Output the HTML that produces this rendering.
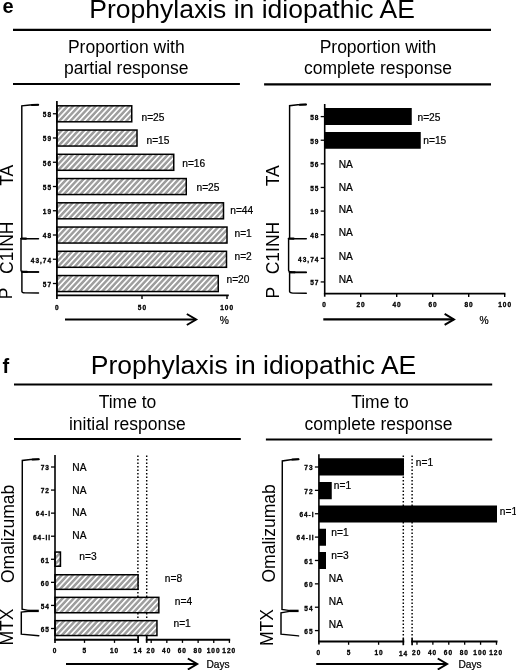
<!DOCTYPE html>
<html lang="en"><head><meta charset="utf-8"><title>Prophylaxis in idiopathic AE</title>
<style>html,body{margin:0;padding:0;background:#fff;}body{width:516px;height:670px;overflow:hidden;}svg{display:block;}text{font-family:"Liberation Sans", Arial, sans-serif;fill:#000;}</style>
</head><body>
<svg width="516" height="670" viewBox="0 0 516 670">
<defs><pattern id="h" width="4.1" height="4.1" patternUnits="userSpaceOnUse" patternTransform="rotate(-47)"><rect width="4.1" height="4.1" fill="#9e9e9e"/><rect y="0" width="4.1" height="1.6" fill="#fff"/></pattern></defs>
<rect width="516" height="670" fill="#fff"/>
<text x="2.4" y="12.5" font-size="20" text-anchor="start" font-weight="bold">e</text>
<text x="252.1" y="18.3" font-size="26.5" text-anchor="middle">Prophylaxis in idiopathic AE</text>
<line x1="13" y1="29.9" x2="491" y2="29.9" stroke="#000" stroke-width="2.1"/>
<text x="126.3" y="53.3" font-size="17.5" text-anchor="middle">Proportion with</text>
<text x="126.3" y="74" font-size="17.5" text-anchor="middle">partial response</text>
<line x1="13" y1="83.9" x2="239.9" y2="83.9" stroke="#000" stroke-width="2"/>
<text x="378" y="53.3" font-size="17.5" text-anchor="middle">Proportion with</text>
<text x="378" y="74" font-size="17.5" text-anchor="middle">complete response</text>
<line x1="264.1" y1="84.4" x2="491" y2="84.4" stroke="#000" stroke-width="2.2"/>
<rect x="56.9" y="105.8" width="74.85" height="16.0" fill="url(#h)" stroke="#000" stroke-width="1.5"/>
<line x1="52.9" y1="113.75" x2="56.9" y2="113.75" stroke="#000" stroke-width="1.3"/>
<text x="52.1" y="117.05" font-size="6.5" text-anchor="end" font-weight="bold" letter-spacing="1" stroke="#000" stroke-width="0.3">58</text>
<text x="141.5" y="120.5" font-size="10.2" text-anchor="start" stroke="#000" stroke-width="0.22">n=25</text>
<rect x="56.9" y="130.05" width="80.1" height="16.0" fill="url(#h)" stroke="#000" stroke-width="1.5"/>
<line x1="52.9" y1="138.0" x2="56.9" y2="138.0" stroke="#000" stroke-width="1.3"/>
<text x="52.1" y="141.3" font-size="6.5" text-anchor="end" font-weight="bold" letter-spacing="1" stroke="#000" stroke-width="0.3">59</text>
<text x="146.5" y="143.75" font-size="10.2" text-anchor="start" stroke="#000" stroke-width="0.22">n=15</text>
<rect x="56.9" y="154.3" width="116.85" height="16.0" fill="url(#h)" stroke="#000" stroke-width="1.5"/>
<line x1="52.9" y1="162.25" x2="56.9" y2="162.25" stroke="#000" stroke-width="1.3"/>
<text x="52.1" y="165.55" font-size="6.5" text-anchor="end" font-weight="bold" letter-spacing="1" stroke="#000" stroke-width="0.3">56</text>
<text x="182.25" y="167" font-size="10.2" text-anchor="start" stroke="#000" stroke-width="0.22">n=16</text>
<rect x="56.9" y="178.55" width="129.35" height="16.0" fill="url(#h)" stroke="#000" stroke-width="1.5"/>
<line x1="52.9" y1="186.5" x2="56.9" y2="186.5" stroke="#000" stroke-width="1.3"/>
<text x="52.1" y="189.8" font-size="6.5" text-anchor="end" font-weight="bold" letter-spacing="1" stroke="#000" stroke-width="0.3">55</text>
<text x="196.5" y="190.75" font-size="10.2" text-anchor="start" stroke="#000" stroke-width="0.22">n=25</text>
<rect x="56.9" y="202.8" width="166.6" height="16.0" fill="url(#h)" stroke="#000" stroke-width="1.5"/>
<line x1="52.9" y1="210.75" x2="56.9" y2="210.75" stroke="#000" stroke-width="1.3"/>
<text x="52.1" y="214.05" font-size="6.5" text-anchor="end" font-weight="bold" letter-spacing="1" stroke="#000" stroke-width="0.3">19</text>
<text x="230.25" y="214.25" font-size="10.2" text-anchor="start" stroke="#000" stroke-width="0.22">n=44</text>
<rect x="56.9" y="227.05" width="170.1" height="16.0" fill="url(#h)" stroke="#000" stroke-width="1.5"/>
<line x1="52.9" y1="235.0" x2="56.9" y2="235.0" stroke="#000" stroke-width="1.3"/>
<text x="52.1" y="238.3" font-size="6.5" text-anchor="end" font-weight="bold" letter-spacing="1" stroke="#000" stroke-width="0.3">48</text>
<text x="234.5" y="236.5" font-size="10.2" text-anchor="start" stroke="#000" stroke-width="0.22">n=1</text>
<rect x="56.9" y="251.3" width="169.6" height="16.0" fill="url(#h)" stroke="#000" stroke-width="1.5"/>
<line x1="52.9" y1="259.25" x2="56.9" y2="259.25" stroke="#000" stroke-width="1.3"/>
<text x="52.1" y="262.55" font-size="6.5" text-anchor="end" font-weight="bold" letter-spacing="1" stroke="#000" stroke-width="0.3">43,74</text>
<text x="234.5" y="259.5" font-size="10.2" text-anchor="start" stroke="#000" stroke-width="0.22">n=2</text>
<rect x="56.9" y="275.55" width="161.35" height="16.0" fill="url(#h)" stroke="#000" stroke-width="1.5"/>
<line x1="52.9" y1="283.5" x2="56.9" y2="283.5" stroke="#000" stroke-width="1.3"/>
<text x="52.1" y="286.8" font-size="6.5" text-anchor="end" font-weight="bold" letter-spacing="1" stroke="#000" stroke-width="0.3">57</text>
<text x="226.5" y="282.5" font-size="10.2" text-anchor="start" stroke="#000" stroke-width="0.22">n=20</text>
<line x1="56.9" y1="101" x2="56.9" y2="299" stroke="#000" stroke-width="1.7"/>
<line x1="56.05" y1="295.3" x2="228.8" y2="295.3" stroke="#000" stroke-width="1.7"/>
<line x1="142" y1="295.3" x2="142" y2="299" stroke="#000" stroke-width="1.4"/>
<line x1="227.0" y1="295.3" x2="227.0" y2="299" stroke="#000" stroke-width="1.4"/>
<text x="56.7" y="309.5" font-size="6.5" text-anchor="middle" font-weight="bold" stroke="#000" stroke-width="0.3">0</text>
<text x="142.4" y="309.5" font-size="6.5" text-anchor="middle" font-weight="bold" letter-spacing="1" stroke="#000" stroke-width="0.3">50</text>
<text x="227.1" y="309.5" font-size="6.5" text-anchor="middle" font-weight="bold" letter-spacing="1" stroke="#000" stroke-width="0.3">100</text>
<line x1="65" y1="319.5" x2="195.835522065861" y2="319.5" stroke="#000" stroke-width="2.1"/>
<path d="M186.84 314.0 L196.14 319.5 L186.84 325.0" fill="none" stroke="#000" stroke-width="2.0" stroke-linejoin="miter" stroke-miterlimit="10"/>
<text x="219.8" y="323.6" font-size="10.3" text-anchor="start" stroke="#000" stroke-width="0.22">%</text>
<path d="M38.2 104.7 L30.0 105.0 L21.8 105.9 L21.8 238.0" fill="none" stroke="#000" stroke-width="1.45" stroke-linejoin="miter" stroke-linecap="round"/>
<path d="M38.2 104.7 L32.0 104.94000000000001" fill="none" stroke="#000" stroke-width="2.05" stroke-linecap="round"/>
<path d="M38.5 238.7 L20.7 238.7 M21.0 238.7 L21.0 270.59999999999997 Q21.0 271.68 24.2 271.88 L38.5 272.0" fill="none" stroke="#000" stroke-width="1.45" stroke-linejoin="miter" stroke-linecap="round"/>
<path d="M21.5 238.5 L26.0 238.6" fill="none" stroke="#000" stroke-width="2.15" stroke-linecap="round"/>
<path d="M38.5 272.0 L21.599999999999998 272.0 M21.9 272.0 L21.9 291.4 Q21.9 292.6 25.099999999999998 292.85 L38.5 293.0" fill="none" stroke="#000" stroke-width="1.45" stroke-linejoin="miter" stroke-linecap="round"/>
<path d="M22.4 271.8 L26.9 271.9" fill="none" stroke="#000" stroke-width="2.15" stroke-linecap="round"/>
<text x="12.9" y="185.8" font-size="17.5" text-anchor="start" transform="rotate(-90 12.9 185.8)">TA</text>
<text x="12.9" y="274" font-size="17.5" text-anchor="start" transform="rotate(-90 12.9 274)">C1INH</text>
<text x="12.3" y="299.3" font-size="17.5" text-anchor="start" transform="rotate(-90 12.3 299.3)">P</text>
<line x1="320.7" y1="116.6" x2="324.7" y2="116.6" stroke="#000" stroke-width="1.3"/>
<text x="319.4" y="119.89999999999999" font-size="6.5" text-anchor="end" font-weight="bold" letter-spacing="1" stroke="#000" stroke-width="0.3">58</text>
<line x1="320.7" y1="140.22" x2="324.7" y2="140.22" stroke="#000" stroke-width="1.3"/>
<text x="319.4" y="143.52" font-size="6.5" text-anchor="end" font-weight="bold" letter-spacing="1" stroke="#000" stroke-width="0.3">59</text>
<line x1="320.7" y1="163.84" x2="324.7" y2="163.84" stroke="#000" stroke-width="1.3"/>
<text x="319.4" y="167.14000000000001" font-size="6.5" text-anchor="end" font-weight="bold" letter-spacing="1" stroke="#000" stroke-width="0.3">56</text>
<line x1="320.7" y1="187.45999999999998" x2="324.7" y2="187.45999999999998" stroke="#000" stroke-width="1.3"/>
<text x="319.4" y="190.76" font-size="6.5" text-anchor="end" font-weight="bold" letter-spacing="1" stroke="#000" stroke-width="0.3">55</text>
<line x1="320.7" y1="211.07999999999998" x2="324.7" y2="211.07999999999998" stroke="#000" stroke-width="1.3"/>
<text x="319.4" y="214.38" font-size="6.5" text-anchor="end" font-weight="bold" letter-spacing="1" stroke="#000" stroke-width="0.3">19</text>
<line x1="320.7" y1="234.7" x2="324.7" y2="234.7" stroke="#000" stroke-width="1.3"/>
<text x="319.4" y="238.0" font-size="6.5" text-anchor="end" font-weight="bold" letter-spacing="1" stroke="#000" stroke-width="0.3">48</text>
<line x1="320.7" y1="258.32" x2="324.7" y2="258.32" stroke="#000" stroke-width="1.3"/>
<text x="319.4" y="261.62" font-size="6.5" text-anchor="end" font-weight="bold" letter-spacing="1" stroke="#000" stroke-width="0.3">43,74</text>
<line x1="320.7" y1="281.94" x2="324.7" y2="281.94" stroke="#000" stroke-width="1.3"/>
<text x="319.4" y="285.24" font-size="6.5" text-anchor="end" font-weight="bold" letter-spacing="1" stroke="#000" stroke-width="0.3">57</text>
<rect x="324.7" y="108" width="87.05000000000001" height="17" fill="#000"/>
<rect x="324.7" y="132" width="96.05000000000001" height="16.75" fill="#000"/>
<text x="417.5" y="120.5" font-size="10.2" text-anchor="start" stroke="#000" stroke-width="0.22">n=25</text>
<text x="423.3" y="143.75" font-size="10.2" text-anchor="start" stroke="#000" stroke-width="0.22">n=15</text>
<text x="338.7" y="167.5" font-size="10.2" text-anchor="start" stroke="#000" stroke-width="0.22">NA</text>
<text x="338.7" y="190.5" font-size="10.2" text-anchor="start" stroke="#000" stroke-width="0.22">NA</text>
<text x="338.7" y="213.25" font-size="10.2" text-anchor="start" stroke="#000" stroke-width="0.22">NA</text>
<text x="338.7" y="236" font-size="10.2" text-anchor="start" stroke="#000" stroke-width="0.22">NA</text>
<text x="338.7" y="259.5" font-size="10.2" text-anchor="start" stroke="#000" stroke-width="0.22">NA</text>
<text x="338.7" y="283" font-size="10.2" text-anchor="start" stroke="#000" stroke-width="0.22">NA</text>
<line x1="324.7" y1="104" x2="324.7" y2="296.7" stroke="#000" stroke-width="1.6"/>
<line x1="323.9" y1="293.7" x2="505.4" y2="293.7" stroke="#000" stroke-width="1.8"/>
<line x1="360.7" y1="293.7" x2="360.7" y2="296.9" stroke="#000" stroke-width="1.4"/>
<text x="361.09999999999997" y="307.0" font-size="6.5" text-anchor="middle" font-weight="bold" letter-spacing="1" stroke="#000" stroke-width="0.3">20</text>
<line x1="396.7" y1="293.7" x2="396.7" y2="296.9" stroke="#000" stroke-width="1.4"/>
<text x="397.09999999999997" y="307.0" font-size="6.5" text-anchor="middle" font-weight="bold" letter-spacing="1" stroke="#000" stroke-width="0.3">40</text>
<line x1="432.7" y1="293.7" x2="432.7" y2="296.9" stroke="#000" stroke-width="1.4"/>
<text x="433.09999999999997" y="307.0" font-size="6.5" text-anchor="middle" font-weight="bold" letter-spacing="1" stroke="#000" stroke-width="0.3">60</text>
<line x1="468.7" y1="293.7" x2="468.7" y2="296.9" stroke="#000" stroke-width="1.4"/>
<text x="469.09999999999997" y="307.0" font-size="6.5" text-anchor="middle" font-weight="bold" letter-spacing="1" stroke="#000" stroke-width="0.3">80</text>
<line x1="504.7" y1="293.7" x2="504.7" y2="296.9" stroke="#000" stroke-width="1.4"/>
<text x="505.09999999999997" y="307.0" font-size="6.5" text-anchor="middle" font-weight="bold" letter-spacing="1" stroke="#000" stroke-width="0.3">100</text>
<text x="324.09999999999997" y="307.0" font-size="6.5" text-anchor="middle" font-weight="bold" stroke="#000" stroke-width="0.3">0</text>
<line x1="323.3" y1="319.4" x2="453.635522065861" y2="319.4" stroke="#000" stroke-width="2.1"/>
<path d="M444.64 313.9 L453.94 319.4 L444.64 324.9" fill="none" stroke="#000" stroke-width="2.0" stroke-linejoin="miter" stroke-miterlimit="10"/>
<text x="479.5" y="323.6" font-size="10.3" text-anchor="start" stroke="#000" stroke-width="0.22">%</text>
<path d="M306 104.5 L297.8 104.8 L289.6 105.7 L289.6 238.0" fill="none" stroke="#000" stroke-width="1.45" stroke-linejoin="miter" stroke-linecap="round"/>
<path d="M306 104.5 L299.8 104.74000000000001" fill="none" stroke="#000" stroke-width="2.05" stroke-linecap="round"/>
<path d="M306.3 238.7 L288.3 238.7 M288.6 238.7 L288.6 270.59999999999997 Q288.6 271.8 291.8 272.05 L306.3 272.2" fill="none" stroke="#000" stroke-width="1.45" stroke-linejoin="miter" stroke-linecap="round"/>
<path d="M289.1 238.5 L293.6 238.6" fill="none" stroke="#000" stroke-width="2.15" stroke-linecap="round"/>
<path d="M306.3 272.4 L289.3 272.4 M289.6 272.4 L289.6 291.59999999999997 Q289.6 292.86 292.8 293.135 L306.3 293.3" fill="none" stroke="#000" stroke-width="1.45" stroke-linejoin="miter" stroke-linecap="round"/>
<path d="M290.1 272.2 L294.6 272.29999999999995" fill="none" stroke="#000" stroke-width="2.15" stroke-linecap="round"/>
<text x="278.8" y="186.3" font-size="17.5" text-anchor="start" transform="rotate(-90 278.8 186.3)">TA</text>
<text x="278.8" y="274.3" font-size="17.5" text-anchor="start" transform="rotate(-90 278.8 274.3)">C1INH</text>
<text x="278.8" y="298.5" font-size="17.5" text-anchor="start" transform="rotate(-90 278.8 298.5)">P</text>
<text x="2.5" y="373" font-size="20" text-anchor="start" font-weight="bold">f</text>
<text x="253.5" y="373.5" font-size="26.5" text-anchor="middle">Prophylaxis in idiopathic AE</text>
<line x1="14" y1="384.5" x2="492.2" y2="384.5" stroke="#000" stroke-width="2.1"/>
<text x="127.5" y="408" font-size="17.5" text-anchor="middle">Time to</text>
<text x="127.3" y="429.7" font-size="17.5" text-anchor="middle">initial response</text>
<line x1="14" y1="438.9" x2="240.8" y2="438.9" stroke="#000" stroke-width="2"/>
<text x="380" y="408" font-size="17.5" text-anchor="middle">Time to</text>
<text x="378.5" y="429.7" font-size="17.5" text-anchor="middle">complete response</text>
<line x1="265.9" y1="439.5" x2="492.2" y2="439.5" stroke="#000" stroke-width="2.2"/>
<line x1="137.9" y1="455.6" x2="137.9" y2="638" stroke="#000" stroke-width="1.45" stroke-dasharray="1.5 2.0"/>
<line x1="146.7" y1="455.6" x2="146.7" y2="638" stroke="#000" stroke-width="1.45" stroke-dasharray="1.5 2.0"/>
<line x1="51.0" y1="467.0" x2="55.0" y2="467.0" stroke="#000" stroke-width="1.3"/>
<text x="49.9" y="470.3" font-size="6.5" text-anchor="end" font-weight="bold" letter-spacing="1" stroke="#000" stroke-width="0.3">73</text>
<line x1="51.0" y1="490.07" x2="55.0" y2="490.07" stroke="#000" stroke-width="1.3"/>
<text x="49.9" y="493.37" font-size="6.5" text-anchor="end" font-weight="bold" letter-spacing="1" stroke="#000" stroke-width="0.3">72</text>
<line x1="51.0" y1="513.14" x2="55.0" y2="513.14" stroke="#000" stroke-width="1.3"/>
<text x="51.0" y="516.4399999999999" font-size="6.5" text-anchor="end" font-weight="bold" letter-spacing="1" stroke="#000" stroke-width="0.3">64-I</text>
<line x1="51.0" y1="536.21" x2="55.0" y2="536.21" stroke="#000" stroke-width="1.3"/>
<text x="51.0" y="539.51" font-size="6.5" text-anchor="end" font-weight="bold" letter-spacing="1" stroke="#000" stroke-width="0.3">64-II</text>
<line x1="51.0" y1="559.28" x2="55.0" y2="559.28" stroke="#000" stroke-width="1.3"/>
<text x="49.9" y="562.5799999999999" font-size="6.5" text-anchor="end" font-weight="bold" letter-spacing="1" stroke="#000" stroke-width="0.3">61</text>
<line x1="51.0" y1="582.35" x2="55.0" y2="582.35" stroke="#000" stroke-width="1.3"/>
<text x="49.9" y="585.65" font-size="6.5" text-anchor="end" font-weight="bold" letter-spacing="1" stroke="#000" stroke-width="0.3">60</text>
<line x1="51.0" y1="605.4200000000001" x2="55.0" y2="605.4200000000001" stroke="#000" stroke-width="1.3"/>
<text x="49.9" y="608.72" font-size="6.5" text-anchor="end" font-weight="bold" letter-spacing="1" stroke="#000" stroke-width="0.3">54</text>
<line x1="51.0" y1="628.49" x2="55.0" y2="628.49" stroke="#000" stroke-width="1.3"/>
<text x="49.9" y="631.79" font-size="6.5" text-anchor="end" font-weight="bold" letter-spacing="1" stroke="#000" stroke-width="0.3">65</text>
<rect x="55.0" y="552.05" width="5.450000000000003" height="14.200000000000045" fill="url(#h)" stroke="#000" stroke-width="1.5"/>
<rect x="55.0" y="574.75" width="83.05000000000001" height="14.600000000000023" fill="url(#h)" stroke="#000" stroke-width="1.5"/>
<rect x="55.0" y="597.35" width="103.85" height="15.399999999999977" fill="url(#h)" stroke="#000" stroke-width="1.5"/>
<rect x="55.0" y="620.65" width="101.94999999999999" height="14.899999999999977" fill="url(#h)" stroke="#000" stroke-width="1.5"/>
<text x="72.3" y="470.5" font-size="10.2" text-anchor="start" stroke="#000" stroke-width="0.22">NA</text>
<text x="72.3" y="493.75" font-size="10.2" text-anchor="start" stroke="#000" stroke-width="0.22">NA</text>
<text x="72.3" y="516.25" font-size="10.2" text-anchor="start" stroke="#000" stroke-width="0.22">NA</text>
<text x="72.3" y="538.75" font-size="10.2" text-anchor="start" stroke="#000" stroke-width="0.22">NA</text>
<text x="79.3" y="560" font-size="10.2" text-anchor="start" stroke="#000" stroke-width="0.22">n=3</text>
<text x="164.8" y="582" font-size="10.2" text-anchor="start" stroke="#000" stroke-width="0.22">n=8</text>
<text x="174.8" y="604.7" font-size="10.2" text-anchor="start" stroke="#000" stroke-width="0.22">n=4</text>
<text x="173.5" y="627" font-size="10.2" text-anchor="start" stroke="#000" stroke-width="0.22">n=1</text>
<line x1="55.0" y1="455" x2="55.0" y2="642.9" stroke="#000" stroke-width="1.6"/>
<line x1="54.2" y1="639.8" x2="138.9" y2="639.8" stroke="#000" stroke-width="2"/>
<line x1="145.8" y1="639.8" x2="230.2" y2="639.8" stroke="#000" stroke-width="2"/>
<line x1="138.1" y1="635.8" x2="138.1" y2="642.9" stroke="#000" stroke-width="1.7"/>
<line x1="146.7" y1="635.8" x2="146.7" y2="642.9" stroke="#000" stroke-width="1.7"/>
<line x1="84.5" y1="639.8" x2="84.5" y2="642.9" stroke="#000" stroke-width="1.3"/>
<line x1="114.5" y1="639.8" x2="114.5" y2="642.9" stroke="#000" stroke-width="1.3"/>
<line x1="151.192" y1="639.8" x2="151.192" y2="642.9" stroke="#000" stroke-width="1.3"/>
<text x="151.092" y="652.7" font-size="6.5" text-anchor="middle" font-weight="bold" letter-spacing="1" stroke="#000" stroke-width="0.3">20</text>
<line x1="166.832" y1="639.8" x2="166.832" y2="642.9" stroke="#000" stroke-width="1.3"/>
<text x="166.732" y="652.7" font-size="6.5" text-anchor="middle" font-weight="bold" letter-spacing="1" stroke="#000" stroke-width="0.3">40</text>
<line x1="182.472" y1="639.8" x2="182.472" y2="642.9" stroke="#000" stroke-width="1.3"/>
<text x="182.372" y="652.7" font-size="6.5" text-anchor="middle" font-weight="bold" letter-spacing="1" stroke="#000" stroke-width="0.3">60</text>
<line x1="198.112" y1="639.8" x2="198.112" y2="642.9" stroke="#000" stroke-width="1.3"/>
<text x="198.012" y="652.7" font-size="6.5" text-anchor="middle" font-weight="bold" letter-spacing="1" stroke="#000" stroke-width="0.3">80</text>
<line x1="213.752" y1="639.8" x2="213.752" y2="642.9" stroke="#000" stroke-width="1.3"/>
<text x="213.65200000000002" y="652.7" font-size="6.5" text-anchor="middle" font-weight="bold" letter-spacing="1" stroke="#000" stroke-width="0.3">100</text>
<line x1="229.392" y1="639.8" x2="229.392" y2="642.9" stroke="#000" stroke-width="1.3"/>
<text x="229.292" y="652.7" font-size="6.5" text-anchor="middle" font-weight="bold" letter-spacing="1" stroke="#000" stroke-width="0.3">120</text>
<text x="54.6" y="652.7" font-size="6.5" text-anchor="middle" font-weight="bold" stroke="#000" stroke-width="0.3">0</text>
<text x="84.2" y="652.7" font-size="6.5" text-anchor="middle" font-weight="bold" stroke="#000" stroke-width="0.3">5</text>
<text x="114.5" y="652.7" font-size="6.5" text-anchor="middle" font-weight="bold" letter-spacing="1" stroke="#000" stroke-width="0.3">10</text>
<text x="138.0" y="653.0" font-size="6.5" text-anchor="middle" font-weight="bold" letter-spacing="1" stroke="#000" stroke-width="0.3">14</text>
<line x1="66" y1="664" x2="196.835522065861" y2="664" stroke="#000" stroke-width="2.1"/>
<path d="M187.84 658.5 L197.14 664 L187.84 669.5" fill="none" stroke="#000" stroke-width="2.0" stroke-linejoin="miter" stroke-miterlimit="10"/>
<text x="206.5" y="667.6" font-size="10.2" text-anchor="start" stroke="#000" stroke-width="0.22">Days</text>
<path d="M38.75 459.2 L30.5 459.5 L22.3 460.5 L22.1 609.1 L29.5 610.6" fill="none" stroke="#000" stroke-width="1.45" stroke-linecap="round"/>
<path d="M38.75 459.2 L32.5 459.4" fill="none" stroke="#000" stroke-width="2.0" stroke-linecap="round"/>
<path d="M29 611.2 L21.3 612.1 L21.3 634.2 L38.8 635.7" fill="none" stroke="#000" stroke-width="1.45" stroke-linecap="round"/>
<line x1="28.5" y1="610.9" x2="38.8" y2="610.9" stroke="#000" stroke-width="2.4"/>
<text x="13.8" y="583" font-size="17.5" text-anchor="start" transform="rotate(-90 13.8 583)">Omalizumab</text>
<text x="13.4" y="645.5" font-size="17.5" text-anchor="start" transform="rotate(-90 13.4 645.5)">MTX</text>
<line x1="314.9" y1="467.0" x2="318.9" y2="467.0" stroke="#000" stroke-width="1.3"/>
<text x="313.6" y="470.3" font-size="6.5" text-anchor="end" font-weight="bold" letter-spacing="1" stroke="#000" stroke-width="0.3">73</text>
<line x1="314.9" y1="490.37" x2="318.9" y2="490.37" stroke="#000" stroke-width="1.3"/>
<text x="313.6" y="493.67" font-size="6.5" text-anchor="end" font-weight="bold" letter-spacing="1" stroke="#000" stroke-width="0.3">72</text>
<line x1="314.9" y1="513.74" x2="318.9" y2="513.74" stroke="#000" stroke-width="1.3"/>
<text x="314.6" y="517.04" font-size="6.5" text-anchor="end" font-weight="bold" letter-spacing="1" stroke="#000" stroke-width="0.3">64-I</text>
<line x1="314.9" y1="537.11" x2="318.9" y2="537.11" stroke="#000" stroke-width="1.3"/>
<text x="314.6" y="540.41" font-size="6.5" text-anchor="end" font-weight="bold" letter-spacing="1" stroke="#000" stroke-width="0.3">64-II</text>
<line x1="314.9" y1="560.48" x2="318.9" y2="560.48" stroke="#000" stroke-width="1.3"/>
<text x="313.6" y="563.78" font-size="6.5" text-anchor="end" font-weight="bold" letter-spacing="1" stroke="#000" stroke-width="0.3">61</text>
<line x1="314.9" y1="583.85" x2="318.9" y2="583.85" stroke="#000" stroke-width="1.3"/>
<text x="313.6" y="587.15" font-size="6.5" text-anchor="end" font-weight="bold" letter-spacing="1" stroke="#000" stroke-width="0.3">60</text>
<line x1="314.9" y1="607.22" x2="318.9" y2="607.22" stroke="#000" stroke-width="1.3"/>
<text x="313.6" y="610.52" font-size="6.5" text-anchor="end" font-weight="bold" letter-spacing="1" stroke="#000" stroke-width="0.3">54</text>
<line x1="314.9" y1="630.59" x2="318.9" y2="630.59" stroke="#000" stroke-width="1.3"/>
<text x="313.6" y="633.89" font-size="6.5" text-anchor="end" font-weight="bold" letter-spacing="1" stroke="#000" stroke-width="0.3">65</text>
<line x1="403.3" y1="455.5" x2="403.3" y2="640" stroke="#000" stroke-width="1.45" stroke-dasharray="1.5 2.0"/>
<line x1="412.1" y1="455.5" x2="412.1" y2="640" stroke="#000" stroke-width="1.45" stroke-dasharray="1.5 2.0"/>
<rect x="318.9" y="458.25" width="85.10000000000002" height="17.25" fill="#000"/>
<rect x="318.9" y="482" width="12.850000000000023" height="17.25" fill="#000"/>
<rect x="318.9" y="505.5" width="178.10000000000002" height="17" fill="#000"/>
<rect x="318.9" y="528.75" width="7.100000000000023" height="17" fill="#000"/>
<rect x="318.9" y="552" width="7.100000000000023" height="17" fill="#000"/>
<text x="415.8" y="465.75" font-size="10.2" text-anchor="start" stroke="#000" stroke-width="0.22">n=1</text>
<text x="333.8" y="488.75" font-size="10.2" text-anchor="start" stroke="#000" stroke-width="0.22">n=1</text>
<text x="499.8" y="514.5" font-size="10.2" text-anchor="start" stroke="#000" stroke-width="0.22">n=1</text>
<text x="331.3" y="535.5" font-size="10.2" text-anchor="start" stroke="#000" stroke-width="0.22">n=1</text>
<text x="331.3" y="558.75" font-size="10.2" text-anchor="start" stroke="#000" stroke-width="0.22">n=3</text>
<text x="328.8" y="582.3" font-size="10.2" text-anchor="start" stroke="#000" stroke-width="0.22">NA</text>
<text x="328.8" y="605" font-size="10.2" text-anchor="start" stroke="#000" stroke-width="0.22">NA</text>
<text x="328.8" y="627.5" font-size="10.2" text-anchor="start" stroke="#000" stroke-width="0.22">NA</text>
<line x1="318.9" y1="454.3" x2="318.9" y2="644.6" stroke="#000" stroke-width="1.6"/>
<line x1="318.09999999999997" y1="641.6" x2="404.2" y2="641.6" stroke="#000" stroke-width="2"/>
<line x1="411.2" y1="641.6" x2="497.5" y2="641.6" stroke="#000" stroke-width="2"/>
<line x1="403.3" y1="638.6" x2="403.3" y2="645.2" stroke="#000" stroke-width="1.7"/>
<line x1="412.1" y1="638.6" x2="412.1" y2="645.2" stroke="#000" stroke-width="1.7"/>
<line x1="348.6" y1="641.6" x2="348.6" y2="644.8" stroke="#000" stroke-width="1.3"/>
<line x1="378.6" y1="641.6" x2="378.6" y2="644.8" stroke="#000" stroke-width="1.3"/>
<line x1="416.96999999999997" y1="641.6" x2="416.96999999999997" y2="644.8" stroke="#000" stroke-width="1.3"/>
<text x="416.66999999999996" y="654.6" font-size="6.5" text-anchor="middle" font-weight="bold" letter-spacing="1" stroke="#000" stroke-width="0.3">20</text>
<line x1="432.87" y1="641.6" x2="432.87" y2="644.8" stroke="#000" stroke-width="1.3"/>
<text x="432.57" y="654.6" font-size="6.5" text-anchor="middle" font-weight="bold" letter-spacing="1" stroke="#000" stroke-width="0.3">40</text>
<line x1="448.77" y1="641.6" x2="448.77" y2="644.8" stroke="#000" stroke-width="1.3"/>
<text x="448.46999999999997" y="654.6" font-size="6.5" text-anchor="middle" font-weight="bold" letter-spacing="1" stroke="#000" stroke-width="0.3">60</text>
<line x1="464.67" y1="641.6" x2="464.67" y2="644.8" stroke="#000" stroke-width="1.3"/>
<text x="464.37" y="654.6" font-size="6.5" text-anchor="middle" font-weight="bold" letter-spacing="1" stroke="#000" stroke-width="0.3">80</text>
<line x1="480.57" y1="641.6" x2="480.57" y2="644.8" stroke="#000" stroke-width="1.3"/>
<text x="480.27" y="654.6" font-size="6.5" text-anchor="middle" font-weight="bold" letter-spacing="1" stroke="#000" stroke-width="0.3">100</text>
<line x1="496.47" y1="641.6" x2="496.47" y2="644.8" stroke="#000" stroke-width="1.3"/>
<text x="496.17" y="654.6" font-size="6.5" text-anchor="middle" font-weight="bold" letter-spacing="1" stroke="#000" stroke-width="0.3">120</text>
<text x="318.4" y="654.8" font-size="6.5" text-anchor="middle" font-weight="bold" stroke="#000" stroke-width="0.3">0</text>
<text x="348.5" y="654.8" font-size="6.5" text-anchor="middle" font-weight="bold" stroke="#000" stroke-width="0.3">5</text>
<text x="379" y="654.8" font-size="6.5" text-anchor="middle" font-weight="bold" letter-spacing="1" stroke="#000" stroke-width="0.3">10</text>
<text x="403.5" y="655.6" font-size="6.5" text-anchor="middle" font-weight="bold" letter-spacing="1" stroke="#000" stroke-width="0.3">14</text>
<line x1="316.2" y1="664" x2="446.735522065861" y2="664" stroke="#000" stroke-width="2.1"/>
<path d="M437.74 658.5 L447.04 664 L437.74 669.5" fill="none" stroke="#000" stroke-width="2.0" stroke-linejoin="miter" stroke-miterlimit="10"/>
<text x="458.5" y="667.6" font-size="10.2" text-anchor="start" stroke="#000" stroke-width="0.22">Days</text>
<path d="M298.5 459.3 L290.4 459.8 L282.3 461 L282 609.4 L290 610.6" fill="none" stroke="#000" stroke-width="1.45" stroke-linecap="round"/>
<path d="M298.5 459.3 L292.4 459.6" fill="none" stroke="#000" stroke-width="2.0" stroke-linecap="round"/>
<path d="M289.5 611.4 L281 612.8 L281 634.2 L298.6 635.9" fill="none" stroke="#000" stroke-width="1.45" stroke-linecap="round"/>
<line x1="289.5" y1="610.9" x2="298.6" y2="610.9" stroke="#000" stroke-width="2.4"/>
<text x="274.6" y="582.5" font-size="17.5" text-anchor="start" transform="rotate(-90 274.6 582.5)">Omalizumab</text>
<text x="273.3" y="646.0" font-size="17.5" text-anchor="start" transform="rotate(-90 273.3 646.0)">MTX</text>
</svg>
</body></html>
